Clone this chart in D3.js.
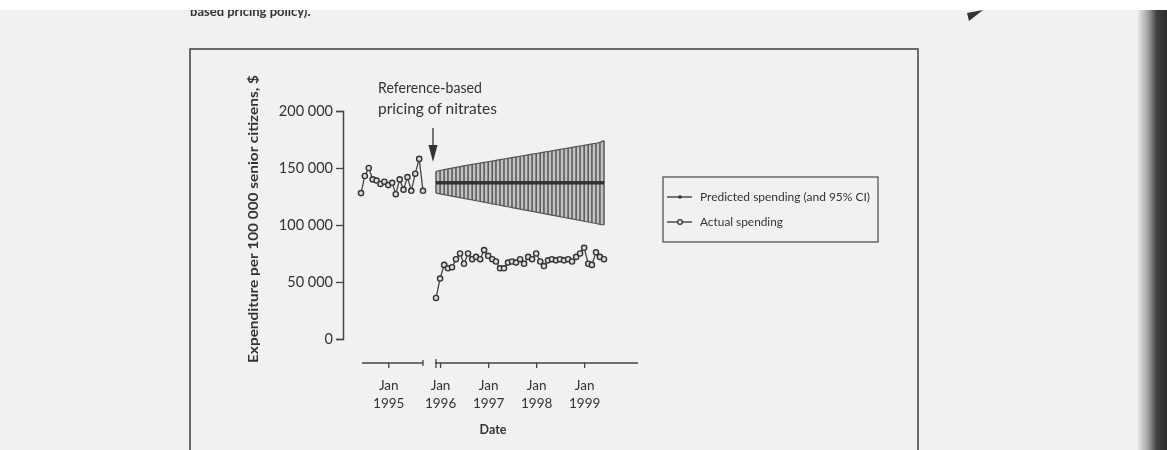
<!DOCTYPE html>
<html>
<head>
<meta charset="utf-8">
<script src="https://cdn.jsdelivr.net/npm/d3@7"></script>
<style>
  html, body { margin: 0; padding: 0; background: #f1f1f1; }
  svg { display: block; }
  text { font-family: Lato, "Open Sans", sans-serif; fill: #333; }
</style>
</head>
<body>
<svg id="chart"></svg>
<script>
// Monthly expenditure per 100 000 senior citizens ($)
// Before the policy: Jun 1994 - Oct 1995
const preStart = new Date(1994, 5, 1);
const preActual = [128000, 143000, 150000, 140000, 139000, 136000, 138000, 135000, 137000,
                   127000, 140000, 131000, 142000, 130000, 145000, 158000, 130000];

// After the policy: Dec 1995 - Jun 1999
const postStart = new Date(1995, 11, 1);
const postActual = [36000, 53000, 65000, 62000, 63000, 70000, 75000, 66000, 75000, 70000,
                    72000, 70000, 78000, 73000, 70000, 68000, 62000, 62000, 67000, 68000,
                    67000, 70000, 66000, 72000, 70000, 75000, 68000, 64000, 69000, 70000,
                    69000, 70000, 69000, 70000, 68000, 72000, 75000, 80000, 66000, 65000,
                    76000, 72000, 70000];

const predCenter = [137000, 137000, 137000, 137000, 137000, 137000, 137000, 137000, 137000, 137000,
                    137000, 137000, 137000, 137000, 137000, 137000, 137000, 137000, 137000, 137000,
                    137000, 137000, 137000, 137000, 137000, 137000, 137000, 137000, 137000, 137000,
                    137000, 137000, 137000, 137000, 137000, 137000, 137000, 137000, 137000, 137000,
                    137000, 137000, 137000];
const predUpper = [147000, 147800, 148500, 149200, 149900, 150600, 151200, 151900, 152500, 153100,
                   153700, 154300, 154900, 155500, 156100, 156700, 157300, 157900, 158500, 159100,
                   159700, 160300, 160900, 161500, 162100, 162700, 163300, 163900, 164500, 165100,
                   165700, 166300, 166900, 167500, 168100, 168700, 169300, 169900, 170500, 171100,
                   171700, 172500, 174000];
const predLower = [128000, 127300, 126600, 126000, 125300, 124600, 124000, 123300, 122600, 122000,
                   121300, 120600, 120000, 119300, 118600, 118000, 117300, 116600, 116000, 115300,
                   114600, 114000, 113300, 112600, 112000, 111300, 110600, 110000, 109300, 108600,
                   108000, 107300, 106600, 106000, 105300, 104600, 104000, 103300, 102600, 102000,
                   101300, 100600, 100000];

const yTicks = [0, 50000, 100000, 150000, 200000];
const preTicks = [new Date(1995, 0, 1)];
const postTicks = [new Date(1996, 0, 1), new Date(1997, 0, 1), new Date(1998, 0, 1), new Date(1999, 0, 1)];

const legendItems = ["Predicted spending (and 95% CI)", "Actual spending"];

// Page size
const W = 1167, H = 450;

const svg = d3.select("#chart").attr("width", W).attr("height", H);

// soft blur, like the scanned page
const defs = svg.append("defs");
defs.append("filter").attr("id", "scan")
    .append("feGaussianBlur").attr("stdDeviation", 0.45);

const page = svg.append("g").attr("filter", "url(#scan)");

// month dates for each series
const preDates = preActual.map((d, i) => d3.timeMonth.offset(preStart, i));
const postDates = postActual.map((d, i) => d3.timeMonth.offset(postStart, i));

// Scales (the x axis is broken between the two periods)
const y = d3.scaleLinear().domain([0, 200000]).range([339, 111]);
const xPre = d3.scaleTime().domain([preStart, preDates[preDates.length - 1]]).range([361, 423]);
const xPost = d3.scaleTime().domain([postStart, postDates[postDates.length - 1]]).range([436, 604]);

// Frame box of the figure
page.append("rect")
    .attr("x", 190).attr("y", 49)
    .attr("width", 728).attr("height", 420)
    .attr("fill", "none")
    .attr("stroke", "#4a4a4a")
    .attr("stroke-width", 1.6);

// Cut-off caption text from the page above
page.append("text")
    .attr("x", 190).attr("y", 16)
    .style("font-size", "13px")
    .style("font-weight", "bold")
    .text("based pricing policy).");

// white strip at top of scan
svg.append("rect").attr("x", 0).attr("y", 0).attr("width", W).attr("height", 10).attr("fill", "#fff");

// small dark mark near the top
page.append("path")
    .attr("d", "M967,13 L983,10 L969,21 Z")
    .attr("fill", "#333");

// dark binding shadow at the right edge
const grad = defs.append("linearGradient").attr("id", "edge").attr("x1", "0").attr("x2", "1");
grad.append("stop").attr("offset", "0%").attr("stop-color", "#e8e8e8");
grad.append("stop").attr("offset", "35%").attr("stop-color", "#a0a0a0");
grad.append("stop").attr("offset", "65%").attr("stop-color", "#404040");
grad.append("stop").attr("offset", "100%").attr("stop-color", "#2a2a2a");
svg.append("rect")
    .attr("x", 1138).attr("y", 10)
    .attr("width", W - 1138).attr("height", H - 10)
    .attr("fill", "url(#edge)");

// Y axis
const yAxis = page.append("g")
    .attr("transform", "translate(343,0)")
    .call(d3.axisLeft(y).tickValues(yTicks).tickSize(7).tickPadding(3)
        .tickFormat(d => d3.format(",")(d).replace(/,/g, " ")));
yAxis.select(".domain").attr("stroke", "#444").attr("stroke-width", 1.5);
yAxis.selectAll(".tick line").attr("stroke", "#444").attr("stroke-width", 1.3);
yAxis.selectAll(".tick text")
    .attr("fill", "#3a3a3a")
    .style("font-family", "Lato, sans-serif")
    .style("font-size", "14.5px");

// Y axis title
page.append("text")
    .attr("transform", "translate(258,219) rotate(-90)")
    .attr("text-anchor", "middle")
    .attr("textLength", 288)
    .attr("lengthAdjust", "spacingAndGlyphs")
    .style("font-size", "12.5px")
    .style("font-weight", "bold")
    .text("Expenditure per 100 000 senior citizens, $");

// X axes, two segments
const axisY = 363;
function drawXAxis(scale, ticks, x0, x1) {
    const g = page.append("g").attr("transform", `translate(0,${axisY})`);
    g.append("line")
        .attr("x1", x0).attr("x2", x1)
        .attr("stroke", "#444").attr("stroke-width", 1.6);
    g.call(d3.axisBottom(scale).tickValues(ticks).tickSize(5).tickFormat(""));
    g.select(".domain").remove();
    g.selectAll(".tick line").attr("stroke", "#444").attr("stroke-width", 1.3);
    const lab = g.selectAll(".tick").append("text")
        .attr("text-anchor", "middle")
        .attr("fill", "#333")
        .style("font-size", "13.5px");
    lab.append("tspan").attr("x", 0).attr("y", 27).text("Jan");
    lab.append("tspan").attr("x", 0).attr("y", 45).text(d => d.getFullYear());
    return g;
}
const gPre = drawXAxis(xPre, preTicks, 362, 423);
const gPost = drawXAxis(xPost, postTicks, 435, 638);

// break marks on the axis
gPre.append("line").attr("x1", 423).attr("x2", 423).attr("y1", -3).attr("y2", 3)
    .attr("stroke", "#444").attr("stroke-width", 1.3);
gPost.append("line").attr("x1", 436).attr("x2", 436).attr("y1", -4).attr("y2", 5)
    .attr("stroke", "#444").attr("stroke-width", 1.3);

page.append("text")
    .attr("x", 493).attr("y", 434)
    .attr("text-anchor", "middle")
    .style("font-size", "12.5px")
    .style("font-weight", "bold")
    .text("Date");

// Predicted band with vertical CI lines
const pred = postDates.map((d, i) => ({date: d, mid: predCenter[i], lo: predLower[i], hi: predUpper[i]}));

page.append("path")
    .datum(pred)
    .attr("fill", "#c2c2c2")
    .attr("d", d3.area().x(d => xPost(d.date)).y0(d => y(d.lo)).y1(d => y(d.hi)));

page.append("g").selectAll("line")
    .data(pred)
    .join("line")
    .attr("x1", d => xPost(d.date)).attr("x2", d => xPost(d.date))
    .attr("y1", d => y(d.lo)).attr("y2", d => y(d.hi))
    .attr("stroke", "#555")
    .attr("stroke-width", 1.5);

["hi", "lo"].forEach(k => {
    page.append("path")
        .datum(pred)
        .attr("fill", "none")
        .attr("stroke", "#555")
        .attr("stroke-width", 1.2)
        .attr("d", d3.line().x(d => xPost(d.date)).y(d => y(d[k])));
});

page.append("path")
    .datum(pred)
    .attr("fill", "none")
    .attr("stroke", "#333")
    .attr("stroke-width", 3.6)
    .attr("d", d3.line().x(d => xPost(d.date)).y(d => y(d.mid)));

// Actual spending series
function drawActual(scale, dates, values) {
    const data = dates.map((d, i) => ({date: d, v: values[i]}));
    page.append("path")
        .datum(data)
        .attr("fill", "none")
        .attr("stroke", "#444")
        .attr("stroke-width", 1.3)
        .attr("d", d3.line().x(d => scale(d.date)).y(d => y(d.v)));
    page.append("g").selectAll("circle")
        .data(data)
        .join("circle")
        .attr("cx", d => scale(d.date))
        .attr("cy", d => y(d.v))
        .attr("r", 2.6)
        .attr("fill", "#dcdcdc")
        .attr("stroke", "#333")
        .attr("stroke-width", 1.4);
}
drawActual(xPre, preDates, preActual);
drawActual(xPost, postDates, postActual);

// Policy annotation
const arrowX = xPost(postStart) - 3;
page.append("line")
    .attr("x1", arrowX).attr("x2", arrowX)
    .attr("y1", 128).attr("y2", 148)
    .attr("stroke", "#333").attr("stroke-width", 1.3);
page.append("path")
    .attr("d", `M${arrowX - 4.5},145 L${arrowX + 4.5},145 L${arrowX},162 Z`)
    .attr("fill", "#333");

page.append("text")
    .attr("x", 378).attr("y", 93)
    .attr("textLength", 104).attr("lengthAdjust", "spacingAndGlyphs")
    .style("font-size", "14.5px")
    .text("Reference-based");
page.append("text")
    .attr("x", 378).attr("y", 114)
    .attr("textLength", 119).attr("lengthAdjust", "spacingAndGlyphs")
    .style("font-size", "14.5px")
    .text("pricing of nitrates");

// Legend
const legend = page.append("g").attr("transform", "translate(663,177)");
legend.append("rect")
    .attr("width", 215).attr("height", 65)
    .attr("fill", "none")
    .attr("stroke", "#555")
    .attr("stroke-width", 1.3);

const legendRow = legend.selectAll("g.row")
    .data(legendItems)
    .join("g")
    .attr("class", "row")
    .attr("transform", (d, i) => `translate(0,${20 + i * 25})`);
legendRow.append("line")
    .attr("x1", 4).attr("x2", 29)
    .attr("stroke", "#333").attr("stroke-width", 1.3);
legendRow.filter((d, i) => i === 0).append("circle")
    .attr("cx", 17).attr("r", 1.8).attr("fill", "#333");
legendRow.filter((d, i) => i === 1).append("circle")
    .attr("cx", 17).attr("r", 2.4).attr("fill", "#dcdcdc")
    .attr("stroke", "#333").attr("stroke-width", 1.2);
legendRow.append("text")
    .attr("x", 37).attr("y", 4)
    .attr("textLength", (d, i) => i === 0 ? 170 : 83)
    .attr("lengthAdjust", "spacingAndGlyphs")
    .style("font-size", "11px")
    .text(d => d);
</script>
</body>
</html>
